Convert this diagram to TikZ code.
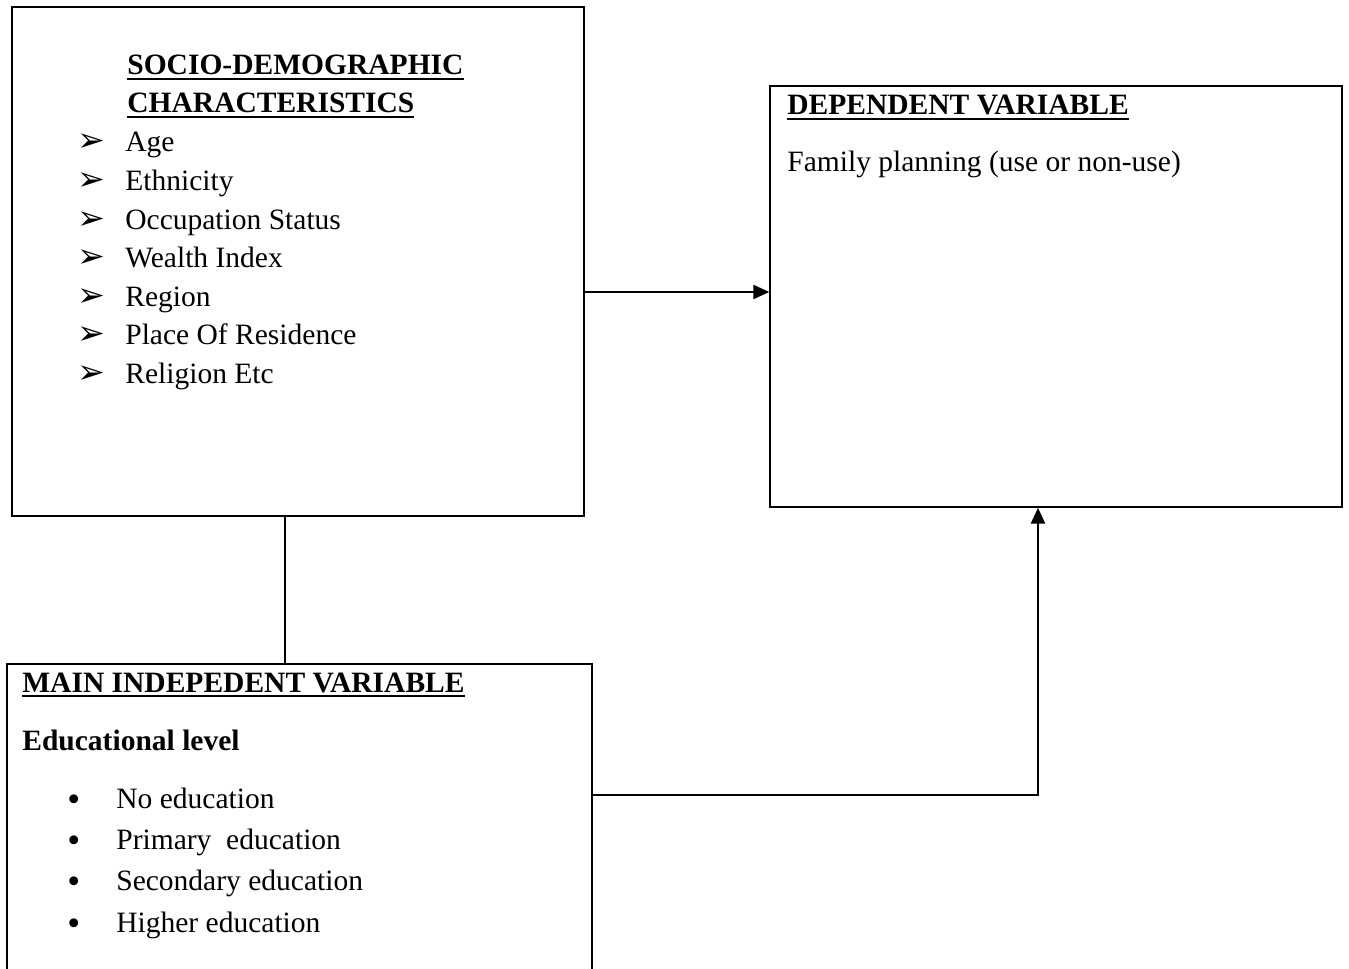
\documentclass[tikz,border=0pt]{standalone}
\usepackage{fontspec}
\setmainfont{Liberation Serif}
\newfontfamily\dingfont{DejaVu Sans}
\usetikzlibrary{arrows.meta,positioning,fit}
\newcommand\headul[1]{\setbox0\hbox{#1}\rlap{\copy0}\rule[-2.6pt]{\wd0}{1.1pt}}
\tikzset{
frame/.style={draw,line width=.9pt,inner sep=0pt},
head/.style={anchor=base west,inner sep=0pt,font=\fontsize{16.8}{20}\selectfont\bfseries},
txt/.style={anchor=base west,inner sep=0pt,font=\fontsize{16.8}{20}\selectfont},
pointer/.style={anchor=base west,inner sep=0pt,font=\fontsize{19}{20}\dingfont},
bullet/.style={anchor=base west,inner sep=0pt,font=\fontsize{21}{22}\selectfont},
arrow/.style={-{Triangle[length=9pt,width=8pt]},line width=1.2pt},
link/.style={line width=1.2pt}
}

\begin{document}
\begin{tikzpicture}[x=0.02cm,y=-0.02cm]
\useasboundingbox (0,0) rectangle (1349,969);
% boxes
\node[frame,fit={(12,7) (584,516)}] (socio) {};
\node[frame,fit={(770,86) (1342,507)}] (dep) {};
\node[frame,fit={(7,664) (592,1000)}] (main) {};

% socio-demographic box
\node[head] (sociohead) at (127,75) {\headul{SOCIO-DEMOGRAPHIC}};
\node[head] (sociohead2) at (127,113) {\headul{CHARACTERISTICS}};
\foreach \lbl [count=\i] in {Age,Ethnicity,Occupation Status,Wealth Index,Region,Place Of Residence,Religion Etc}{
  \node[pointer] (p\i) at (77,{152+38.6*(\i-1)}) {➢};
  \node[txt] (s\i) at (125,{152+38.6*(\i-1)}) {\lbl};
}

% dependent box
\node[head] (dephead) at (787,115) {\headul{DEPENDENT VARIABLE}};
\node[txt] (fp) at (787,172) {Family planning (use or non-use)};

% main independent box
\node[head] (mainhead) at (22,692) {\headul{MAIN INDEPEDENT VARIABLE}};
\node[head] (edu) at (22,750) {Educational level};
\foreach \lbl [count=\i] in {No education,Primary\ \ education,Secondary education,Higher education}{
  \node[bullet] (b\i) at (67,{811+41.4*(\i-1)}) {•};
  \node[txt] (e\i) at (116,{808+41.4*(\i-1)}) {\lbl};
}

% connectors
\coordinate (feed) at (770,292);
\coordinate (tie) at (285,664);
\coordinate (bend) at (1038,795);
\draw[arrow] (socio.east |- feed) -- (dep.west |- feed);
\draw[link] (socio.south -| tie) -- (tie);
\draw[arrow] (main.east |- bend) -- (bend) -- (dep.south -| bend);
\end{tikzpicture}
\end{document}
